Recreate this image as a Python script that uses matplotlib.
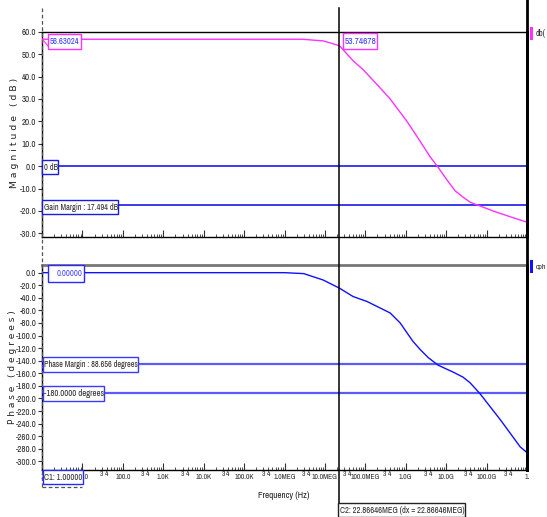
import matplotlib
matplotlib.use('Agg')
import matplotlib.pyplot as plt
from matplotlib import font_manager as fm
from matplotlib.lines import Line2D
from matplotlib.patches import Rectangle
from matplotlib.transforms import blended_transform_factory

# ---------------- data ----------------
freq_mag_hz = [1, 2.75e6, 9.0e6, 1.35e7, 2.287e7, 5.0e7, 8.9e7, 2.3e8, 4.1e8, 1.07e9,
               2.0e9, 4.0e9, 6.3e9, 1.05e10, 1.66e10, 2.6e10, 4.0e10, 6.9e10, 1.6e11,
               4.0e11, 1e12]
mag_db = [56.63, 56.63, 55.9, 55.0, 53.75, 47.0, 43.0, 35.0, 30.0, 20.0,
          12.6, 4.2, -0.5, -6.2, -11.0, -13.8, -16.2, -17.8, -20.3, -22.7, -25.0]

freq_ph_hz = [1, 1.0e6, 3.0e6, 9.0e6, 2.287e7, 5.0e7, 1.1e8, 2.3e8, 4.1e8, 7.3e8, 1.07e9,
              1.5e9, 2.3e9, 3.6e9, 6.3e9, 1.48e10, 2.6e10, 3.9e10, 6.9e10, 2.2e11, 6.8e11,
              1e12]
phase_deg = [0, 0, -1.5, -11.6, -24.6, -38, -45.8, -56, -64, -80, -95.5,
             -109, -122.5, -135, -147, -158, -166, -175, -192.5, -234, -277, -286]

mag_hlines = [0.0, -17.494]          # 0 dB line, gain margin line
phase_hlines = [-144.5, -191.6]      # phase margin line, -180 degrees line (as drawn)
cursor1_hz = 1.0
cursor2_hz = 22.86646e6

mag_yticks = [60, 50, 40, 30, 20, 10, 0, -10, -20, -30]
phase_yticks = list(range(0, -301, -20))
major_freqs = [1, 1e1, 1e2, 1e3, 1e4, 1e5, 1e6, 1e7, 1e8, 1e9, 1e10, 1e11, 1e12]
major_labels = ['1', '10.0', '100.0', '1.0K', '10.0K', '100.0K', '1.0MEG', '10.0MEG',
                '100.0MEG', '1.0G', '10.0G', '100.0G', '1.']

# ---------------- font: prefer a narrow face ----------------
def pick_narrow():
    prefs = []
    for f in fm.fontManager.ttflist:
        if f.style != 'normal':
            continue
        w = f.weight
        if not (w in (400, 'normal', 'regular', 'book') or str(w) == '400'):
            continue
        n = f.name
        st = str(f.stretch)
        fn = f.fname.lower()
        score = None
        if 'Narrow' in n or 'narrow' in fn:
            score = 0
        elif 'condensed' in st and 'semi' not in st:
            score = 1
        elif 'Condensed' in n or 'condensed' in fn:
            score = 2
        elif 'semi-condensed' in st:
            score = 3
        if score is not None:
            prefs.append((score, f.fname))
    if prefs:
        prefs.sort()
        return fm.FontProperties(fname=prefs[0][1])
    return fm.FontProperties(family='Liberation Sans')


NARROW_FP = pick_narrow()


def fp(size):
    p = NARROW_FP.copy()
    p.set_size(size)
    return p


# ---------------- layout ----------------
W, H = 547, 517
fig = plt.figure(figsize=(W / 100, H / 100), dpi=100)
fig.patch.set_facecolor('white')


def fx(px):
    return px / W


def fy(py):
    return 1 - py / H


TXT = '#2a2a2a'
L, R = 42, 527
ax1 = fig.add_axes([fx(L), fy(236.7), fx(R) - fx(L), fy(31.7) - fy(236.7)])
ax2 = fig.add_axes([fx(L), fy(470), fx(R) - fx(L), fy(265) - fy(470)])

MAG_C = '#ff30ff'
PH_C = '#1010ff'

ax1.plot(freq_mag_hz, mag_db, color=MAG_C, lw=1.0, zorder=3)
ax2.plot(freq_ph_hz, phase_deg, color=PH_C, lw=1.0, zorder=3)

for v in mag_hlines:
    ax1.axhline(v, color='#1a1ae6', lw=1.2, zorder=2)
for v in phase_hlines:
    ax2.axhline(v, color='#5a5aff', lw=1.6, zorder=2)

ax1.set_ylim(-31.5, 60)
ax2.set_ylim(-313.7, 12.2)

minor_locs = []
minor_labels = []
for k in range(12):
    for m in range(2, 10):
        minor_locs.append(m * 10 ** k)
        # the 3 / 4 labels of the first decade are hidden under the C1 box
        minor_labels.append(str(m) if (m in (3, 4) and k > 0) else '')

for ax in (ax1, ax2):
    ax.set_xscale('log')
    ax.set_xlim(1, 1e12)
    ax.set_xticks(major_freqs)
    ax.set_xticks(minor_locs, minor=True)
    ax.tick_params(axis='x', which='major', direction='in', length=5, width=0.8,
                   color='#333333')
    ax.tick_params(axis='x', which='minor', direction='in', length=2.5, width=0.6,
                   color='#333333')
    ax.tick_params(axis='y', which='major', direction='out', length=3, width=0.8,
                   pad=1, color='#333333', labelcolor=TXT)
    ax.tick_params(axis='y', which='minor', left=False)
    for s in ('left', 'bottom'):
        ax.spines[s].set_color('black')
        ax.spines[s].set_linewidth(1.0)
    ax.spines['right'].set_color('black')
    ax.spines['right'].set_linewidth(2.0)

ax1.spines['top'].set_color('black')
ax1.spines['top'].set_linewidth(1.0)
ax2.spines['top'].set_color('#777777')
ax2.spines['top'].set_linewidth(2.0)

ax1.set_xticklabels([''] * len(major_freqs))
ax1.set_xticklabels([''] * len(minor_locs), minor=True)
ax2.set_xticklabels(major_labels, fontproperties=fp(5.4), color=TXT)
ax2.set_xticklabels(minor_labels, minor=True, fontproperties=fp(5.4), color=TXT)
ax2.tick_params(axis='x', which='major', pad=3.0)
ax2.tick_params(axis='x', which='minor', pad=1.0)

ax1.set_yticks(mag_yticks)
ax1.set_yticklabels([f'{v:.1f}' for v in mag_yticks], fontproperties=fp(6.4))
ax2.set_yticks(phase_yticks)
ax2.set_yticklabels([f'{v:.1f}' for v in phase_yticks], fontproperties=fp(6.4))

# axis titles
fig.text(fx(15), fy(133), 'M a g n i t u d e   ( d B )', rotation=90, ha='center',
         va='center', fontsize=6.7, color='#222222')
fig.text(fx(13), fy(367), 'P h a s e   ( d e g r e e s )', rotation=90, ha='center',
         va='center', fontsize=6.5, color='#222222')
freq_t = fig.text(fx(284), fy(495), 'Frequency (Hz)', ha='center', va='center',
                  fontproperties=fp(6), color='#222222')

# cursors and frame lines
bt = blended_transform_factory(ax1.transData, fig.transFigure)
fig.add_artist(Line2D([cursor2_hz, cursor2_hz], [fy(8), fy(503)], transform=bt,
                      color='black', lw=1.1, zorder=5))
fig.add_artist(Line2D([cursor1_hz, cursor1_hz], [fy(8), fy(487)], transform=bt,
                      color='#555555', lw=0.9, ls=(0, (3, 2)), zorder=0.5))
fig.add_artist(Line2D([fx(42), fx(82)], [fy(487), fy(487)], color='#555555', lw=0.9,
                      ls=(0, (3, 2)), zorder=0.5))
fig.add_artist(Line2D([fx(R), fx(R)], [fy(0), fy(470)], color='black', lw=2.0, zorder=5))

fit_list = [(freq_t, 52)]


def box(x0, y0, x1, y1, text, edge, tcolor, target_w, ha='left', tx=None):
    fig.add_artist(Rectangle((fx(x0), fy(y1)), fx(x1) - fx(x0), fy(y0) - fy(y1),
                             facecolor='white', edgecolor=edge, lw=1.0, zorder=6))
    if tx is None:
        tx = x0 + 1.5 if ha == 'left' else x1 - 1.5
    t = fig.text(fx(tx), fy((y0 + y1) / 2 + 0.3), text, ha=ha, va='center',
                 fontproperties=fp(6), color=tcolor, zorder=7)
    fit_list.append((t, target_w))


box(48, 34, 81, 48.5, '56.63024', MAG_C, '#3a3aff', 30)
fig.add_artist(Line2D([fx(42.5), fx(48)], [fy(39.3), fy(46)], color=MAG_C, lw=0.8,
                      zorder=6))
box(343, 33, 377, 48.5, '53.74678', MAG_C, '#3a3aff', 32)
box(42, 159.5, 58, 174.5, '0 dB', '#1a1ae6', TXT, 14)
box(42, 200, 118, 214, 'Gain Margin : 17.494 dB', '#1a1ae6', TXT, 74)
box(48, 265, 84, 281.5, '0.00000', '#2a2aff', '#4a4aff', 26, ha='right')
box(42.5, 356.5, 138, 371.5, 'Phase Margin : 88.656 degrees', '#3a3aff', TXT, 94)
box(42.5, 386, 104, 401, '-180.0000 degrees', '#3a3aff', TXT, 60)
box(43, 470, 83, 483.5, 'C1: 1.00000', '#2a2aff', TXT, 38)
box(338, 503, 465, 517, 'C2: 22.86646MEG (dx = 22.86646MEG)', '#222222', TXT, 124)

# legend tags
fig.add_artist(Rectangle((fx(530), fy(40)), fx(3), fy(27) - fy(40), facecolor=MAG_C,
                         edgecolor='none', zorder=6))
t1 = fig.text(fx(535.5), fy(34), 'db(', ha='left', va='center', fontproperties=fp(6),
              color=TXT)
fig.add_artist(Rectangle((fx(530), fy(273)), fx(3), fy(260) - fy(273), facecolor=PH_C,
                         edgecolor='none', zorder=6))
t2 = fig.text(fx(535.5), fy(266.5), 'cph', ha='left', va='center', fontproperties=fp(6),
              color=TXT)
fit_list += [(t1, 10), (t2, 10.5)]

# fit annotation font sizes to the widths seen in the reference
fig.canvas.draw()
renderer = fig.canvas.get_renderer()
for t, tw in fit_list:
    w = t.get_window_extent(renderer).width
    if w > 0:
        t.set_fontsize(min(7.5, t.get_fontsize() * tw / w))

fig.savefig('out.png', dpi=100, facecolor='white')
